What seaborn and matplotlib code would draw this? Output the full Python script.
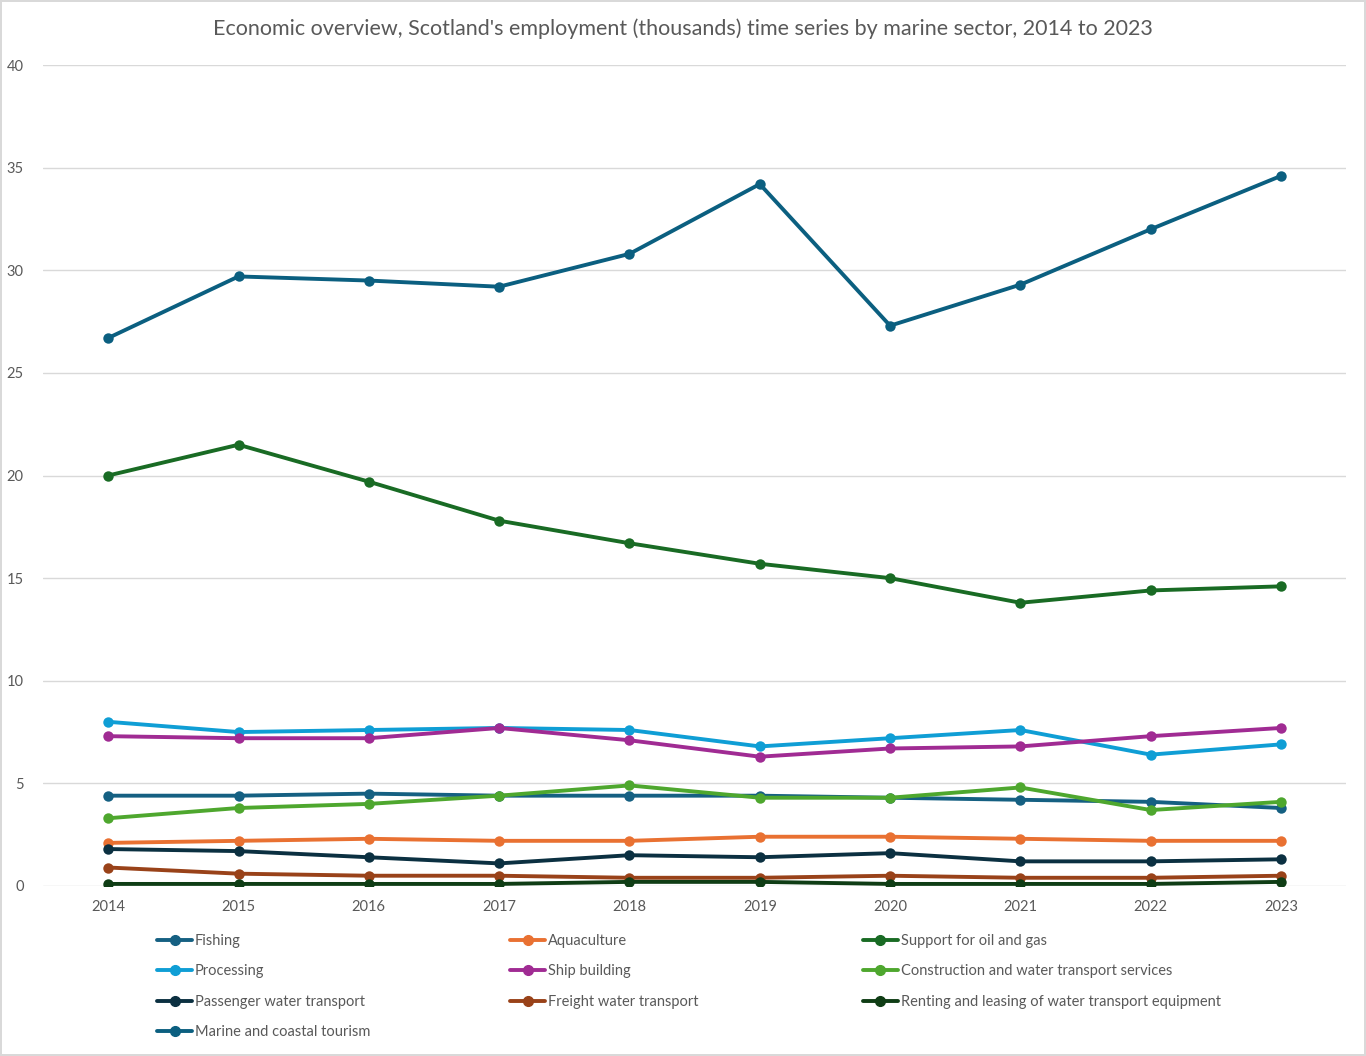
import seaborn as sns
import matplotlib.pyplot as plt
import numpy as np
from matplotlib.lines import Line2D

sns.set_style('white')
plt.rcParams['font.family'] = ['Lato', 'DejaVu Sans']

years = ['2014', '2015', '2016', '2017', '2018', '2019', '2020', '2021', '2022', '2023']

fishing = [4.4, 4.4, 4.5, 4.4, 4.4, 4.4, 4.3, 4.2, 4.1, 3.8]
aquaculture = [2.1, 2.2, 2.3, 2.2, 2.2, 2.4, 2.4, 2.3, 2.2, 2.2]
oil_gas = [20.0, 21.5, 19.7, 17.8, 16.7, 15.7, 15.0, 13.8, 14.4, 14.6]
processing = [8.0, 7.5, 7.6, 7.7, 7.6, 6.8, 7.2, 7.6, 6.4, 6.9]
ship_building = [7.3, 7.2, 7.2, 7.7, 7.1, 6.3, 6.7, 6.8, 7.3, 7.7]
construction = [3.3, 3.8, 4.0, 4.4, 4.9, 4.3, 4.3, 4.8, 3.7, 4.1]
passenger = [1.8, 1.7, 1.4, 1.1, 1.5, 1.4, 1.6, 1.2, 1.2, 1.3]
freight = [0.9, 0.6, 0.5, 0.5, 0.4, 0.4, 0.5, 0.4, 0.4, 0.5]
renting = [0.1, 0.1, 0.1, 0.1, 0.2, 0.2, 0.1, 0.1, 0.1, 0.2]
tourism = [26.7, 29.7, 29.5, 29.2, 30.8, 34.2, 27.3, 29.3, 32.0, 34.6]

series = [
    ('Fishing', fishing, '#156082'),
    ('Aquaculture', aquaculture, '#E97132'),
    ('Support for oil and gas', oil_gas, '#196B24'),
    ('Processing', processing, '#0F9ED5'),
    ('Ship building', ship_building, '#A02B93'),
    ('Construction and water transport services', construction, '#4EA72E'),
    ('Passenger water transport', passenger, '#0B3041'),
    ('Freight water transport', freight, '#994219'),
    ('Renting and leasing of water transport equipment', renting, '#0F3D15'),
    ('Marine and coastal tourism', tourism, '#0B5F80'),
]

fig = plt.figure(figsize=(13.66, 10.56), dpi=100)
fig.patch.set_edgecolor('#D9D9D9')
fig.patch.set_linewidth(1.5)
ax = fig.add_axes([0.0315, 0.161, 0.954, 0.7774])

x = np.arange(len(years))
for name, vals, col in series:
    sns.lineplot(x=x, y=vals, color=col, marker='o', markersize=7.5,
                 markeredgewidth=0, linewidth=2.8, ax=ax)

ax.set_xlim(-0.5, 9.5)
ax.set_ylim(0, 40)
ax.set_xticks(x, labels=years)
ax.set_yticks(range(0, 41, 5))
ax.grid(axis='y', color='#D9D9D9', linewidth=1)
ax.set_axisbelow(True)
for s in ax.spines.values():
    s.set_visible(False)
ax.tick_params(colors='#595959', labelsize=10.5, length=0, pad=10)
ax.tick_params(axis='y', pad=14)

fig.text(0.5, 1 - 29 / 1056, "Economic overview, Scotland's employment (thousands) time series by marine sector, 2014 to 2023",
         ha='center', va='center', fontsize=15.5, color='#595959')

# legend in three columns, row-wise order like the source
handles = {name: Line2D([], [], color=col, marker='o', markersize=7, linewidth=2.8)
           for name, vals, col in series}
cols = [
    ['Fishing', 'Processing', 'Passenger water transport', 'Marine and coastal tourism'],
    ['Aquaculture', 'Ship building', 'Freight water transport'],
    ['Support for oil and gas', 'Construction and water transport services',
     'Renting and leasing of water transport equipment'],
]
col_x = [157, 510, 863]
for cx, names in zip(col_x, cols):
    fig.legend([handles[n] for n in names], names, loc='upper left',
               bbox_to_anchor=(cx / 1366, 1 - 934 / 1056), frameon=False,
               fontsize=10.5, labelcolor='#595959', handlelength=2.4,
               handletextpad=0.2, labelspacing=1.12, borderpad=0, borderaxespad=0)

fig.savefig('out.png', dpi=100)
